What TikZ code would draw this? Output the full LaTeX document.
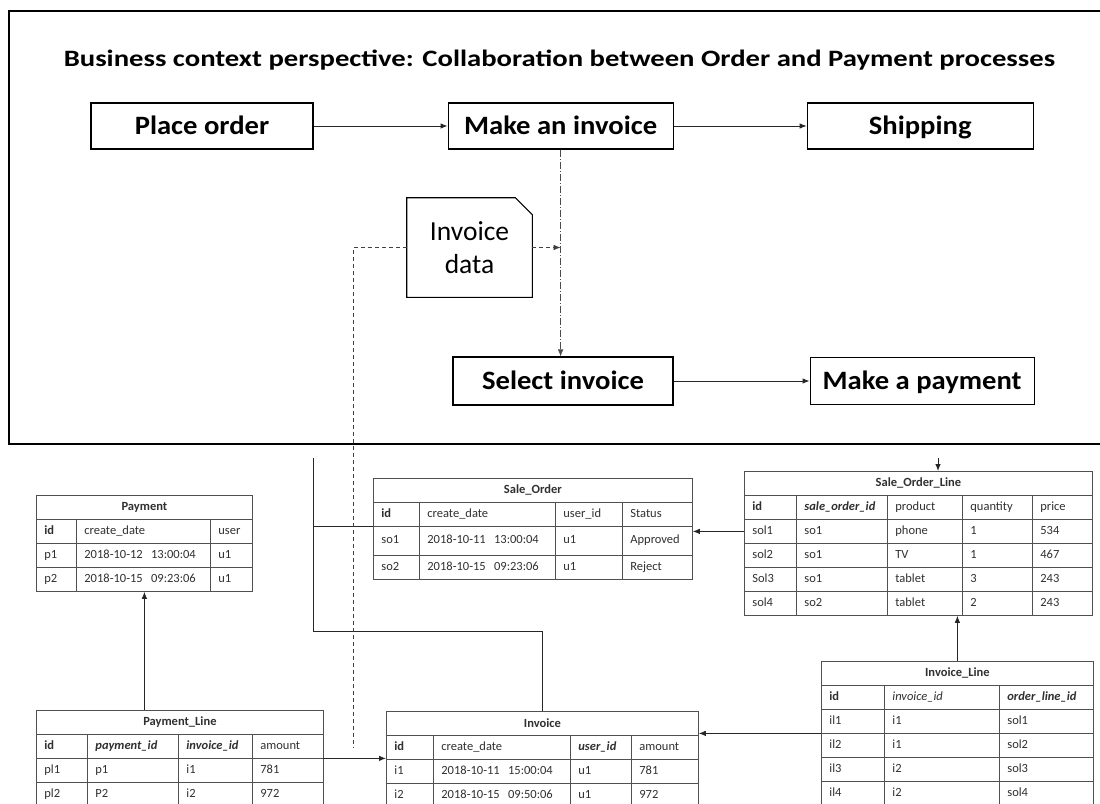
\documentclass[tikz,border=0pt]{standalone}
\usepackage{fontspec}
\setmainfont{Carlito}
\newfontfamily\titlefont{Carlito}[FakeStretch=1.22]
\newfontfamily\boxfont{Carlito}[FakeStretch=1.08]
\usetikzlibrary{positioning,matrix,fit,arrows.meta}

\definecolor{tblline}{HTML}{505050}
\definecolor{tbltext}{HTML}{303030}

\newcommand\dbtitle[2]{%
  \node[tbltitle, fit={(#1.north west) ([yshift=24pt]#1.north east)},
        label={[titletext]center:#2}] (#1-t) {};}

\tikzset{
  procbox/.style={draw=black, line width=1.1pt, minimum height=46pt,
    text height=20pt, text depth=3pt, font=\boxfont\fontsize{26.5}{30}\selectfont\bfseries},
  cell/.style={draw=tblline, line width=0.8pt, minimum height=24pt, inner xsep=8pt,
    inner ysep=0pt, text height=9pt, text depth=3pt, align=left, outer sep=0pt,
    font=\fontsize{12.5}{14}\selectfont, text=tbltext},
  dbtable/.style={matrix of nodes, nodes in empty cells, inner sep=0pt, outer sep=0pt,
    column sep=-0.8pt, row sep=-0.8pt, nodes={cell}, anchor=north west},
  colw/.style args={#1/#2}{column #1/.style={nodes={text width=#2}}},
  tbltitle/.style={draw=tblline, line width=0.8pt, inner sep=0pt, outer sep=0pt},
  titletext/.style={font=\fontsize{12.5}{14}\selectfont\bfseries, text=tbltext},
  link/.style={draw=black!85, line width=0.9pt},
  dashdot/.style={dash pattern=on 7pt off 2pt on 1pt off 2pt, draw=black!70},
  dashline/.style={dash pattern=on 4pt off 3pt, draw=black!75},
}

\begin{document}
\begin{tikzpicture}[x=1pt, y=-1pt, >={Latex[length=7pt,width=5.5pt]}, semithick]
\useasboundingbox (0,0) rectangle (1100,803);
\clip (0,0) rectangle (1100,803);
\fill[white] (0,0) rectangle (1100,803);

% business context frame
\draw[line width=1.2pt] (1105,11) -| (9,444) -- (1105,444);
\node[font=\titlefont\fontsize{23.5}{28}\selectfont\bfseries] (title) at (559.5,60)
  {Business context perspective: Collaboration between Order and Payment processes};

\node[procbox, minimum width=222pt] (place) at (202,126) {Place order};
\node[procbox, minimum width=225pt, right=134pt of place] (mkinv) {Make an invoice};
\node[procbox, minimum width=226pt, right=133pt of mkinv] (ship) {Shipping};
\node[procbox, minimum width=220pt, minimum height=48pt] (selinv) at (563,381) {Select invoice};
\node[procbox, minimum width=224pt, minimum height=47pt, right=136pt of selinv] (mkpay) {Make a payment};

\node[minimum width=125pt, minimum height=99pt, align=center,
      font=\fontsize{27.5}{33}\selectfont] (invdata) at (469.5,247.5) {Invoice\\data};
\draw[line width=1.1pt] (invdata.south west) -- (invdata.north west)
  -- ([xshift=-17pt]invdata.north east) -- ([yshift=-17pt]invdata.north east)
  -- (invdata.south east) -- cycle;

\draw[link, ->] (place) -- (mkinv);
\draw[link, ->] (mkinv) -- (ship);
\draw[link, ->] (selinv) -- (mkpay);
\draw[dashdot, ->] (mkinv.south) -- (mkinv.south |- selinv.north);
\draw[dashline, ->] (invdata.east) -- (invdata.east -| mkinv.south);

% tables
\matrix[dbtable, colw/.list={1/24pt,2/118pt,3/26pt}] (pay) at (36,519) {
  \textbf{id} & create\_date & user \\
  p1 & 2018-10-12~~13:00:04 & u1 \\
  p2 & 2018-10-15~~09:23:06 & u1 \\
};
\dbtitle{pay}{Payment}

\matrix[dbtable, colw/.list={1/35pt,2/75pt,3/58pt,4/55pt}] (pl) at (36,734) {
  \textbf{id} & \textbf{\textit{payment\_id}} & \textbf{\textit{invoice\_id}} & amount \\
  pl1 & p1 & i1 & 781 \\
  pl2 & P2 & i2 & 972 \\
};
\dbtitle{pl}{Payment\_Line}

\matrix[dbtable, colw/.list={1/30pt,2/120pt,3/51pt,4/54pt},
        row 2/.style={nodes={minimum height=29pt}}] (so) at (373,502) {
  \textbf{id} & create\_date & user\_id & Status \\
  so1 & 2018-10-11~~13:00:04 & u1 & Approved \\
  so2 & 2018-10-15~~09:23:06 & u1 & Reject \\
};
\dbtitle{so}{Sale\_Order}

\matrix[dbtable, colw/.list={1/31pt,2/121pt,3/45pt,4/51pt}] (inv) at (386,735) {
  \textbf{id} & create\_date & \textbf{\textit{user\_id}} & amount \\
  i1 & 2018-10-11~~15:00:04 & u1 & 781 \\
  i2 & 2018-10-15~~09:50:06 & u1 & 972 \\
};
\dbtitle{inv}{Invoice}

\matrix[dbtable, colw/.list={1/36pt,2/75pt,3/59pt,4/54pt,5/44pt}] (sol) at (744,495) {
  \textbf{id} & \textbf{\textit{sale\_order\_id}} & product & quantity & price \\
  sol1 & so1 & phone & 1 & 534 \\
  sol2 & so1 & TV & 1 & 467 \\
  Sol3 & so1 & tablet & 3 & 243 \\
  sol4 & so2 & tablet & 2 & 243 \\
};
\dbtitle{sol}{Sale\_Order\_Line}

\matrix[dbtable, colw/.list={1/47pt,2/99pt,3/78pt}] (il) at (821,685) {
  \textbf{id} & \textit{invoice\_id} & \textbf{\textit{order\_line\_id}} \\
  il1 & i1 & sol1 \\
  il2 & i1 & sol2 \\
  il3 & i2 & sol3 \\
  il4 & i2 & sol4 \\
};
\dbtitle{il}{Invoice\_Line}

% links between tables
\coordinate (bk) at (313,458);
\coordinate (soltop) at (938,458);
\coordinate (dsh) at (353,748);
\draw[link] (bk) -- ++(0,173) -| (inv-t.north);
\draw[link] (bk |- so-1-1.south west) -- (so-1-1.south west);
\draw[dashline] (invdata.west) -| (dsh);
\draw[link, ->] (soltop) -- (soltop |- sol-t.north);
\draw[link, ->] (sol-2-1.west) -- (sol-2-1.west -| so.east);
\draw[link, ->] (il-t.north) -- (il-t.north |- sol.south);
\draw[link, ->] (pl-t.north -| pay.south) -- (pay.south);
\draw[link, ->] (pl-1-4.south east) -- (pl-1-4.south east -| inv.west);
\draw[link, ->] (il-2-1.south west) -- (il-2-1.south west -| inv.east);
\end{tikzpicture}
\end{document}
